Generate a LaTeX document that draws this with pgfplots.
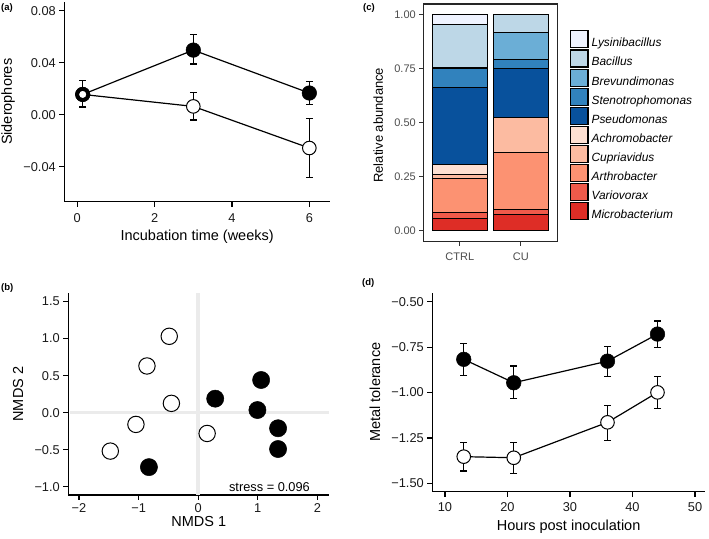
\documentclass[border=0pt]{standalone}
\usepackage{pgfplots}
\pgfplotsset{compat=1.18}
\usepackage{fontspec}
\setmainfont{Liberation Sans}
\definecolor{cLys}{HTML}{EFF3FF}
\definecolor{cBac}{HTML}{BDD7E7}
\definecolor{cBre}{HTML}{6BAED6}
\definecolor{cSte}{HTML}{3182BD}
\definecolor{cPse}{HTML}{08519C}
\definecolor{cAch}{HTML}{FEE0D2}
\definecolor{cCup}{HTML}{FCBBA1}
\definecolor{cArt}{HTML}{FC9272}
\definecolor{cVar}{HTML}{EF5A4A}
\definecolor{cMic}{HTML}{DE2D26}
\definecolor{refgray}{HTML}{EBEBEB}
\pgfplotsset{
  myaxis/.style={scale only axis, axis x line*=bottom, axis y line*=left,
    axis line style={line width=1.3bp, black, -},
    tick align=outside, major tick length=5bp,
    every tick/.style={black, line width=1.2bp},
    tick label style={font=\fontsize{12.8bp}{14bp}\selectfont, text=black!90},
    label style={font=\fontsize{14.5bp}{16bp}\selectfont},
  },
  blackser/.style={black, line width=1.2bp, mark=*, mark size=7.3bp, mark options={fill=black, draw=black, line width=0.5bp},
    error bars/.cd, y dir=both, y explicit, error bar style={line width=1.2bp, black},
    error mark options={rotate=90, mark size=3.5bp, line width=1.2bp, black}},
  openser/.style={black, line width=1.2bp, mark=*, mark size=6.8bp, mark options={fill=white, draw=black, line width=1bp},
    error bars/.cd, y dir=both, y explicit, error bar style={line width=1.2bp, black},
    error mark options={rotate=90, mark size=3.5bp, line width=1.2bp, black}},
}
\begin{document}
\begin{tikzpicture}
\useasboundingbox (0bp,0bp) rectangle (709bp,539bp);
% panel labels
\node[font=\bfseries\fontsize{9.5bp}{11bp}\selectfont, anchor=west, inner sep=0pt] at (1bp,531bp) {(a)};
\node[font=\bfseries\fontsize{9.5bp}{11bp}\selectfont, anchor=west, inner sep=0pt] at (1bp,250.7bp) {(b)};
\node[font=\bfseries\fontsize{9.5bp}{11bp}\selectfont, anchor=west, inner sep=0pt] at (363bp,531bp) {(c)};
\node[font=\bfseries\fontsize{9.5bp}{11bp}\selectfont, anchor=west, inner sep=0pt] at (362bp,255.7bp) {(d)};

% ---------- (a)
\begin{axis}[myaxis, at={(64.3bp,337.3bp)}, anchor=south west,
  width=265.7bp, height=199.7bp,
  xmin=-0.336, xmax=6.535, ymin=-0.0669, ymax=0.0867,
  xtick={0,2,4,6}, xticklabels={0,2,4,6},
  xticklabel style={yshift=-3bp},
  ytick={-0.04,0,0.04,0.08},
  yticklabels={−0.04,0.00,0.04,0.08},
  xlabel={Incubation time (weeks)}, ylabel={Siderophores},
  xlabel style={at={(axis description cs:0.5,-0.175)}, anchor=center},
  ylabel style={at={(axis description cs:-0.211,0.5)}, anchor=center},
]
\addplot[blackser] table[x=x, y=y, y error plus=ep, y error minus=em] {
x y ep em
0.14 0.0156 0.0106 0.0097
3 0.0497 0.0118 0.0107
6 0.0167 0.0089 0.0090
};
\addplot[openser] table[x=x, y=y, y error plus=ep, y error minus=em] {
x y ep em
0.14 0.0156 0.0106 0.0097
3 0.0064 0.0105 0.0105
6 -0.0256 0.0228 0.0229
};
\addplot[only marks, mark=*, mark size=5.6bp, mark options={fill=white, draw=black, line width=3.6bp}] coordinates {(0.14,0.0156)};
\end{axis}

% ---------- (b)
\begin{axis}[myaxis, at={(68.3bp,44bp)}, anchor=south west,
  width=261bp, height=201.7bp,
  xmin=-2.18, xmax=2.2, ymin=-1.11, ymax=1.61,
  xtick={-2,-1,0,1,2}, xticklabels={−2,−1,0,1,2},
  ytick={-1,-0.5,0,0.5,1,1.5}, yticklabels={−1.0,−0.5,0.0,0.5,1.0,1.5},
  xlabel={NMDS 1}, ylabel={NMDS 2},
  xlabel style={at={(axis description cs:0.5,-0.131)}, anchor=center},
  ylabel style={at={(axis description cs:-0.192,0.5)}, anchor=center},
]
\addplot[refgray, line width=3.5bp] coordinates {(-2.15,0) (2.2,0)};
\addplot[refgray, line width=3.5bp] coordinates {(0,-1.11) (0,1.61)};
\addplot[only marks, mark=*, mark size=8.2bp, mark options={fill=white, draw=black, line width=1bp}] coordinates {
(-0.486,1.03) (-0.86,0.63) (-0.45,0.126) (-1.045,-0.158) (-1.475,-0.518) (0.15,-0.28)};
\addplot[only marks, mark=*, mark size=8.6bp, mark options={fill=black, draw=black, line width=0.5bp}] coordinates {
(1.056,0.441) (0.285,0.189) (0.994,0.036) (1.34,-0.21) (1.34,-0.49) (-0.827,-0.734)};
\node[font=\fontsize{12.8bp}{14bp}\selectfont] at (axis cs:1.196,-1.0) {stress = 0.096};
\end{axis}

% ---------- (c)
\begin{axis}[scale only axis, at={(423.3bp,297.3bp)}, anchor=south west,
  width=134bp, height=237.7bp,
  xmin=0.4, xmax=2.6, ymin=-0.05, ymax=1.05,
  ybar stacked, bar width=0.9,
  axis line style={line width=1.3bp, black!85},
  tick align=outside, major tick length=4bp, tick pos=left,
  every tick/.style={black!80, line width=1bp},
  xtick={1,2}, xticklabels={CTRL,CU},
  xticklabel style={yshift=-4bp},
  ytick={0,0.25,0.5,0.75,1}, yticklabels={0.00,0.25,0.50,0.75,1.00},
  tick label style={font=\fontsize{11bp}{13bp}\selectfont, text=black!70},
  ylabel={Relative abundance},
  ylabel style={font=\fontsize{13bp}{15bp}\selectfont, at={(axis description cs:-0.336,0.49)}, anchor=center},
  reverse legend, legend cell align=left,
  legend image code/.code={\draw[#1, draw=black, line width=1.1bp] (0bp,-4.6bp) rectangle (17.6bp,12.4bp);},
  legend style={draw=none, fill=none, at={(1.0918,0.4874)}, anchor=west, inner sep=0pt,
    row sep=0pt, column sep=2bp, nodes={inner sep=1.1bp},
    font=\itshape\fontsize{11.9bp}{13bp}\selectfont},
]
\addplot[fill=cMic, draw=black, line width=1bp] coordinates {(1,0.057) (2,0.074)};
\addplot[fill=cVar, draw=black, line width=1bp] coordinates {(1,0.028) (2,0.023)};
\addplot[fill=cArt, draw=black, line width=1bp] coordinates {(1,0.158) (2,0.266)};
\addplot[fill=cCup, draw=black, line width=1bp] coordinates {(1,0.019) (2,0.160)};
\addplot[fill=cAch, draw=black, line width=1bp] coordinates {(1,0.046) (2,0)};
\addplot[fill=cPse, draw=black, line width=1bp] coordinates {(1,0.355) (2,0.228)};
\addplot[fill=cSte, draw=black, line width=1bp] coordinates {(1,0.088) (2,0.040)};
\addplot[fill=cBre, draw=black, line width=1bp] coordinates {(1,0.006) (2,0.125)};
\addplot[fill=cBac, draw=black, line width=1bp] coordinates {(1,0.197) (2,0.084)};
\addplot[fill=cLys, draw=black, line width=1bp] coordinates {(1,0.046) (2,0)};
\legend{Microbacterium,Variovorax,Arthrobacter,Cupriavidus,Achromobacter,Pseudomonas,Stenotrophomonas,Brevundimonas,Bacillus,Lysinibacillus}
\end{axis}

% ---------- (d)
\begin{axis}[myaxis, at={(432.3bp,47.3bp)}, anchor=south west,
  width=272.7bp, height=199bp,
  xmin=7.97, xmax=51.6, ymin=-1.546, ymax=-0.45,
  xtick={10,20,30,40,50}, xticklabels={10,20,30,40,50},
  xticklabel style={yshift=-2.5bp},
  ytick={-1.5,-1.25,-1,-0.75,-0.5}, yticklabels={−1.50,−1.25,−1.00,−0.75,−0.50},
  xlabel={Hours post inoculation}, ylabel={Metal tolerance},
  xlabel style={at={(axis description cs:0.5,-0.178)}, anchor=center},
  ylabel style={at={(axis description cs:-0.210,0.5)}, anchor=center},
]
\addplot[blackser] table[x=x, y=y, y error plus=ep, y error minus=em] {
x y ep em
13 -0.817 0.086 0.088
21 -0.946 0.092 0.086
36 -0.827 0.079 0.086
44 -0.678 0.072 0.073
};
\addplot[openser] table[x=x, y=y, y error plus=ep, y error minus=em] {
x y ep em
13 -1.353 0.077 0.079
21 -1.359 0.083 0.088
36 -1.164 0.092 0.099
44 -0.999 0.086 0.090
};
\end{axis}
\end{tikzpicture}
\end{document}
